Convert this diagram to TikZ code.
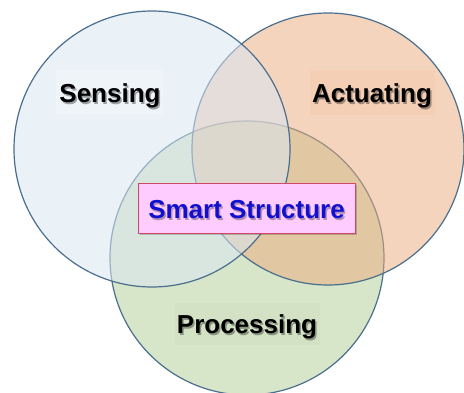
\documentclass[tikz,border=0pt]{standalone}
\usepackage{fontspec}
\setmainfont{Liberation Sans}
\begin{document}
\begin{tikzpicture}[x=1pt,y=-1pt,
  set/.style={circle,draw=edgeblue,line width=1.2pt,draw opacity=1,inner sep=0pt,minimum size=#1},
  lab/.style={font=\bfseries\fontsize{26}{28}\selectfont,inner sep=4pt},
  shadowtxt/.style={font=\bfseries\fontsize{26}{28}\selectfont,inner sep=4pt,text=black,text opacity=0.35}]
\definecolor{edgeblue}{HTML}{4A6E8E}
\definecolor{senfill}{HTML}{D9E6F2}
\definecolor{actfill}{HTML}{EDAB7D}
\definecolor{profill}{HTML}{D7E6C8}
\definecolor{boxpink}{HTML}{FFCCFF}
\definecolor{boxedge}{HTML}{D04868}
\definecolor{txtblue}{HTML}{1010D0}
\useasboundingbox (0,0) rectangle (464,392);
\fill[white] (0,0) rectangle (464,392);
\node[set=274pt,fill=profill] (pro) at (247,258) {};
\node[set=272pt,fill=actfill,fill opacity=0.5] (act) at (328,149) {};
\node[set=276pt,fill=senfill,fill opacity=0.55] (sen) at (152,149) {};
% label background patches
\fill[white,opacity=0.25] (56,70) rectangle (163,115);
\fill[actfill,opacity=0.12] (310,70) rectangle (435,115);
\fill[profill!80!black,opacity=0.08] (175,303) rectangle (320,345);
% labels with shadows
\node[shadowtxt] at (111.5,97.5) {Sensing};
\node[lab] (senlab) at (110,96) {Sensing};
\node[shadowtxt] at (373.5,97.5) {Actuating};
\node[lab] (actlab) at (372,96) {Actuating};
\node[shadowtxt] at (248.5,328.5) {Processing};
\node[lab] (prolab) at (247,327) {Processing};
% smart structure box
\fill[black,opacity=0.2] (140,185) rectangle (357,235);
\node[draw=boxedge,fill=boxpink,line width=0.8pt,minimum width=217pt,minimum height=50pt,inner sep=0pt] (ss) at (246.5,208) {};
\node[shadowtxt,text opacity=0.3] at (248,211.5) {Smart Structure};
\node[lab,text=txtblue] (sslab) at (246.5,210) {Smart Structure};
\end{tikzpicture}
\end{document}
